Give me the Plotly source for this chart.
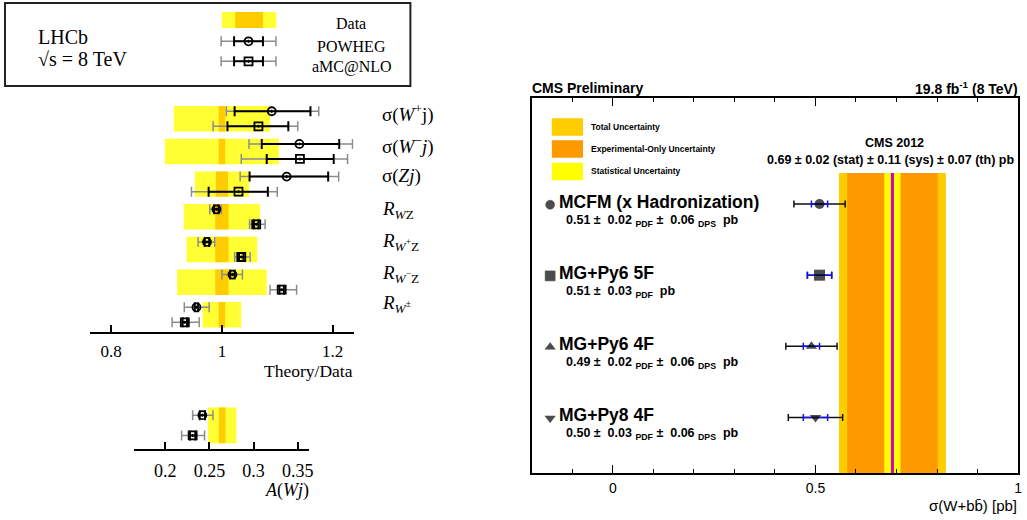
import plotly.graph_objects as go

W, H = 1027, 520
SERIF = "Liberation Serif, Times New Roman, serif"
SANS = "Liberation Sans, Arial, sans-serif"

# ---------------- LHCb: W/Z + jet, theory / data ----------------
lhcb_labels = [
    "σ(<i>W</i><sup>+</sup>j)",
    "σ(<i>W</i><sup>−</sup><i>j</i>)",
    "σ(<i>Zj</i>)",
    "<i>R</i><sub><i>W</i>Z</sub>",
    "<i>R</i><sub><i>W</i><sup>+</sup>Z</sub>",
    "<i>R</i><sub><i>W</i><sup>−</sup>Z</sub>",
    "<i>R</i><sub><i>W</i><sup>±</sup></sub>",
]
data_center = 1.0
data_stat = [0.006, 0.006, 0.011, 0.012, 0.012, 0.012, 0.006]
data_total = [0.087, 0.103, 0.049, 0.069, 0.064, 0.081, 0.035]

powheg_val = [1.090, 1.140, 1.117, 0.990, 0.973, 1.019, 0.954]
powheg_in_lo = [1.023, 1.072, 1.050, 0.986, 0.969, 1.015, 0.951]
powheg_in_hi = [1.160, 1.212, 1.192, 0.994, 0.977, 1.023, 0.957]
powheg_out_lo = [1.008, 1.049, 1.033, 0.978, 0.957, 1.000, 0.932]
powheg_out_hi = [1.175, 1.236, 1.211, 0.999, 0.987, 1.037, 0.977]

amc_val = [1.066, 1.141, 1.030, 1.062, 1.035, 1.108, 0.933]
amc_in_lo = [1.010, 1.081, 0.976, 1.058, 1.031, 1.104, 0.929]
amc_in_hi = [1.120, 1.202, 1.083, 1.066, 1.039, 1.112, 0.937]
amc_out_lo = [0.984, 1.035, 0.945, 1.050, 1.023, 1.087, 0.910]
amc_out_hi = [1.137, 1.227, 1.100, 1.078, 1.051, 1.135, 0.959]

# W charge asymmetry A(Wj)
awj_data = 0.2645
awj_stat = 0.0038
awj_total = 0.016
awj_powheg = [0.242]
awj_powheg_in = [0.239, 0.245]
awj_powheg_out = [0.231, 0.254]
awj_amc = [0.231]
awj_amc_in = [0.228, 0.234]
awj_amc_out = [0.2185, 0.2445]

# ---------------- CMS: sigma(W+bb) ----------------
cms_models = ["MCFM (x Hadronization)", "MG+Py6 5F", "MG+Py6 4F", "MG+Py8 4F"]
cms_symbols = ["circle", "square", "triangle-up", "triangle-down"]
cms_pred = [0.51, 0.51, 0.49, 0.50]
cms_pdf = [0.02, 0.03, 0.02, 0.03]
cms_dps = [0.06, 0.0, 0.06, 0.06]
cms_meas, cms_stat, cms_sys, cms_th = 0.69, 0.02, 0.11, 0.07

YEL, ORG = "#FFFF33", "#FFCC00"
GREY = "#8c8c8c"


def px(x):
    return x / W


def py(y):
    return 1 - y / H


def err(vals, lo, hi):
    return dict(type="data", symmetric=False,
                array=[h - v for v, h in zip(vals, hi)],
                arrayminus=[v - l for v, l in zip(vals, lo)])


fig = go.Figure()
annotations = []
shapes = []


def text(x, y, s, size, family=SANS, xanchor="left", yanchor="middle",
         xref="paper", yref="paper"):
    annotations.append(dict(x=x, y=y, xref=xref, yref=yref, text=s, showarrow=False,
                            xanchor=xanchor, yanchor=yanchor, borderpad=0,
                            font=dict(family=family, size=size, color="black")))


# ---- LHCb main panel ----
rows = list(range(len(lhcb_labels)))
OFF, HALF = 0.23, 0.39
for r, st, tot in zip(rows, data_stat, data_total):
    shapes.append(dict(type="rect", xref="x", yref="y", x0=data_center - tot, x1=data_center + tot,
                       y0=r - HALF, y1=r + HALF, fillcolor=YEL, line_width=0, layer="below"))
    shapes.append(dict(type="rect", xref="x", yref="y", x0=data_center - st, x1=data_center + st,
                       y0=r - HALF, y1=r + HALF, fillcolor=ORG, line_width=0, layer="below"))

MSIZE, MLW = 8, 1.8


def model_traces(vals, ilo, ihi, olo, ohi, ys, sym, xa, ya):
    fig.add_trace(go.Scatter(
        x=vals, y=ys, xaxis=xa, yaxis=ya, mode="markers",
        marker=dict(size=1, color="rgba(0,0,0,0)"),
        error_x=dict(**err(vals, olo, ohi), color=GREY, thickness=1.5, width=5),
        showlegend=False, hoverinfo="skip"))
    fig.add_trace(go.Scatter(
        x=vals, y=ys, xaxis=xa, yaxis=ya, mode="markers",
        marker=dict(symbol=sym, size=MSIZE, color="black", line=dict(width=MLW, color="black")),
        error_x=dict(**err(vals, ilo, ihi), color="black", thickness=2, width=5),
        showlegend=False, hoverinfo="skip"))


model_traces(powheg_val, powheg_in_lo, powheg_in_hi, powheg_out_lo, powheg_out_hi,
             [r - OFF for r in rows], "circle-open-dot", "x", "y")
model_traces(amc_val, amc_in_lo, amc_in_hi, amc_out_lo, amc_out_hi,
             [r + OFF for r in rows], "square-open-dot", "x", "y")

label_y = [113, 145, 176, 210, 242, 274, 304]
for lab, ly in zip(lhcb_labels, label_y):
    text(px(382), py(ly), lab, 19, SERIF)

# ---- A(Wj) panel ----
shapes.append(dict(type="rect", xref="x2", yref="y2", x0=awj_data - awj_total, x1=awj_data + awj_total,
                   y0=-0.88, y1=0.88, fillcolor=YEL, line_width=0, layer="below"))
shapes.append(dict(type="rect", xref="x2", yref="y2", x0=awj_data - awj_stat, x1=awj_data + awj_stat,
                   y0=-0.88, y1=0.88, fillcolor=ORG, line_width=0, layer="below"))
model_traces(awj_powheg, [awj_powheg_in[0]], [awj_powheg_in[1]], [awj_powheg_out[0]], [awj_powheg_out[1]],
             [-0.5], "circle-open-dot", "x2", "y2")
model_traces(awj_amc, [awj_amc_in[0]], [awj_amc_in[1]], [awj_amc_out[0]], [awj_amc_out[1]],
             [0.5], "square-open-dot", "x2", "y2")

text(px(355), py(371), "Theory/Data", 17.5, SERIF, xanchor="right")
text(px(311), py(490), "<i>A</i>(<i>Wj</i>)", 18, SERIF, xanchor="right")

# ---- LHCb legend box ----
shapes.append(dict(type="rect", xref="paper", yref="paper", x0=px(5), x1=px(412), y0=py(86), y1=py(3),
                   line=dict(color="#222222", width=2), fillcolor="rgba(0,0,0,0)"))
text(px(37), py(37), "LHCb", 20, SERIF)
text(px(37), py(59), "√s = 8 TeV", 20, SERIF)
shapes.append(dict(type="rect", xref="paper", yref="paper", x0=px(222.7), x1=px(277.3), y0=py(28), y1=py(12),
                   fillcolor=YEL, line_width=0))
shapes.append(dict(type="rect", xref="paper", yref="paper", x0=px(236), x1=px(264), y0=py(28), y1=py(12),
                   fillcolor=ORG, line_width=0))
for ly, sym in [(41.3, "circle-open-dot"), (61.3, "square-open-dot")]:
    fig.add_trace(go.Scatter(x=[249.5], y=[ly], xaxis="x4", yaxis="y4", mode="markers",
                             marker=dict(size=1, color="rgba(0,0,0,0)"),
                             error_x=dict(type="constant", value=27.5, color=GREY, thickness=1.5, width=5),
                             showlegend=False, hoverinfo="skip"))
    fig.add_trace(go.Scatter(x=[249.5], y=[ly], xaxis="x4", yaxis="y4", mode="markers",
                             marker=dict(symbol=sym, size=MSIZE, color="black",
                                         line=dict(width=MLW, color="black")),
                             error_x=dict(type="constant", value=14.5, color="black", thickness=2, width=5),
                             showlegend=False, hoverinfo="skip"))
text(px(352), py(23.5), "Data", 16, SERIF, xanchor="center")
text(px(353), py(46.5), "POWHEG", 16, SERIF, xanchor="center")
text(px(353), py(66.5), "aMC@NLO", 16, SERIF, xanchor="center")

# ---- CMS panel ----
tot_unc = (cms_stat ** 2 + cms_sys ** 2 + cms_th ** 2) ** 0.5
exp_unc = (cms_stat ** 2 + cms_sys ** 2) ** 0.5
BTOP, BBOT = -0.436, 3.78
for half_w, col in [(tot_unc, "#FFCC00"), (exp_unc, "#FF9900"), (cms_stat, "#FFFF00")]:
    shapes.append(dict(type="rect", xref="x3", yref="y3", x0=cms_meas - half_w, x1=cms_meas + half_w,
                       y0=BTOP, y1=BBOT, fillcolor=col, line_width=0, layer="below"))
shapes.append(dict(type="line", xref="x3", yref="y3", x0=cms_meas, x1=cms_meas, y0=BTOP, y1=BBOT,
                   line=dict(color="#CC00CC", width=3), layer="below"))

crow = list(range(len(cms_models)))
cms_tot = [(p ** 2 + d ** 2) ** 0.5 for p, d in zip(cms_pdf, cms_dps)]
fig.add_trace(go.Scatter(x=cms_pred, y=crow, xaxis="x3", yaxis="y3", mode="markers",
                         marker=dict(size=1, color="rgba(0,0,0,0)"),
                         error_x=dict(type="data", array=cms_tot, color="#111111", thickness=1.5, width=3.5),
                         showlegend=False, hoverinfo="skip"))
fig.add_trace(go.Scatter(x=cms_pred, y=crow, xaxis="x3", yaxis="y3", mode="markers",
                         marker=dict(size=1, color="rgba(0,0,0,0)"),
                         error_x=dict(type="data", array=cms_pdf, color="#1010EE", thickness=1.5, width=3.5),
                         showlegend=False, hoverinfo="skip"))
fig.add_trace(go.Scatter(x=cms_pred, y=crow, xaxis="x3", yaxis="y3", mode="markers",
                         marker=dict(symbol=cms_symbols, size=[10, 11, 10, 10], color="black",
                                     line=dict(width=0)),
                         showlegend=False, hoverinfo="skip"))
# label markers next to model names
fig.add_trace(go.Scatter(x=[-0.155] * len(crow), y=[c + 0.01 for c in crow], xaxis="x3", yaxis="y3",
                         mode="markers", cliponaxis=False,
                         marker=dict(symbol=cms_symbols, size=[9, 10, 9, 9], color="black",
                                     line=dict(width=0.5, color="black")),
                         showlegend=False, hoverinfo="skip"))

for c, name, p, pdf, dps in zip(crow, cms_models, cms_pred, cms_pdf, cms_dps):
    text(-0.136, c - 0.03, f"<b>{name}</b>", 17.5, SANS, xref="x3", yref="y3")
    line2 = f"<b>{p:.2f} ±  {pdf:.2f} <sub>PDF</sub> "
    if dps > 0:
        line2 += f"±  {dps:.2f} <sub>DPS</sub> "
    line2 += " pb</b>"
    text(-0.119, c + 0.235, line2, 12.5, SANS, xref="x3", yref="y3")

text(px(533), py(88), "<b>CMS Preliminary</b>", 14, SANS)
text(px(1023), py(88), "<b>19.8 fb<sup>-1</sup> (8 TeV)</b>", 14, SANS, xanchor="right")

leg = [("Total Uncertainty", "#FFCC00", 127), ("Experimental-Only Uncertainty", "#FF9900", 149),
       ("Statistical Uncertainty", "#FFFF00", 171.5)]
for lab, col, yc in leg:
    shapes.append(dict(type="rect", xref="paper", yref="paper", x0=px(554), x1=px(585.3),
                       y0=py(yc + 8.7), y1=py(yc - 8.7), fillcolor=col, line_width=0))
    text(px(592), py(yc), f"<b>{lab}</b>", 8.5, SANS)

text(px(898), py(143), "<b>CMS 2012</b>", 12.5, SANS, xanchor="center")
text(px(894), py(160),
     f"<b>{cms_meas:.2f} ± {cms_stat:.2f} (stat) ± {cms_sys:.2f} (sys) ± {cms_th:.2f} (th) pb</b>",
     12.5, SANS, xanchor="center")
text(px(1022), py(505), "σ(W+bb\u0304) [pb]", 15, SANS, xanchor="right")

axis_common = dict(showline=True, linecolor="black", showgrid=False, zeroline=False, fixedrange=True)

fig.update_layout(
    width=W, height=H, margin=dict(l=0, r=0, t=0, b=0),
    paper_bgcolor="white", plot_bgcolor="rgba(0,0,0,0)",
    showlegend=False,
    xaxis=dict(domain=[px(90), px(355)], range=[0.761, 1.238], anchor="y", linewidth=2,
               ticks="inside", ticklen=7, tickwidth=2, tickcolor="black",
               tickvals=[0.8, 1.0, 1.2], ticktext=["0.8", "1", "1.2"], ticklabelstandoff=3,
               tickfont=dict(family=SERIF, size=17, color="black"), **axis_common),
    yaxis=dict(domain=[py(331.7), py(100)], range=[6.517, -0.575], anchor="x", visible=False),
    xaxis2=dict(domain=[px(134.3), px(310.7)], range=[0.1643, 0.3634], anchor="y2", linewidth=2,
                ticks="inside", ticklen=7, tickwidth=2, tickcolor="black",
                tickvals=[0.2, 0.25, 0.3, 0.35], ticktext=["0.2", "0.25", "0.3", "0.35"],
                ticklabelstandoff=5,
                tickfont=dict(family=SERIF, size=18, color="black"), **axis_common),
    yaxis2=dict(domain=[py(448.7), py(400)], range=[1.153, -1.246], anchor="x2", visible=False),
    xaxis3=dict(domain=[px(534), px(1022)], range=[-0.2, 1.0], anchor="y3", linewidth=2, mirror="ticks",
                ticks="inside", ticklen=8, tickwidth=1.2, tickcolor="black",
                tickvals=[0, 0.5, 1.0], ticktext=["0", "0.5", "1"], ticklabelstandoff=1,
                minor=dict(dtick=0.1, tick0=0, ticks="inside", ticklen=4, tickwidth=1.2, tickcolor="black"),
                tickfont=dict(family=SANS, size=14, color="black"), **axis_common),
    yaxis3=dict(domain=[py(473), py(98)], range=[3.78, -1.49], anchor="x3", linewidth=2, mirror=True,
                ticks="", showticklabels=False, **axis_common),
    xaxis4=dict(domain=[0, 1], range=[0, W], anchor="y4", visible=False, fixedrange=True),
    yaxis4=dict(domain=[0, 1], range=[H, 0], anchor="x4", visible=False, fixedrange=True),
    annotations=annotations, shapes=shapes,
)

fig.write_html("out.html")
